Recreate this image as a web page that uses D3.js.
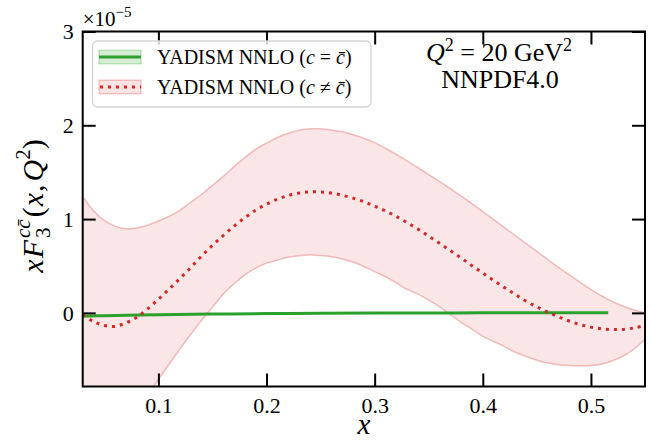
<!DOCTYPE html>
<html>
<head>
<meta charset="utf-8">
<script src="https://cdn.jsdelivr.net/npm/d3@7"></script>
<style>
  html, body { margin: 0; padding: 0; background: #fff; }
  svg { display: block; }
  text { font-family: "Liberation Serif", "DejaVu Serif", serif; fill: #000; }
</style>
</head>
<body>
<svg id="chart" width="651" height="441"></svg>
<script>
// ---------------- data (values in units of 1e-5) ----------------
const xGrid = [0.03,0.04,0.05,0.06,0.07,0.08,0.09,0.10,0.11,0.12,0.13,0.14,0.15,0.16,0.17,0.18,0.19,0.20,
  0.21,0.22,0.23,0.24,0.25,0.26,0.27,0.28,0.29,0.30,0.31,0.32,0.33,0.34,0.35,0.36,0.37,0.38,0.39,0.40,
  0.41,0.42,0.43,0.44,0.45,0.46,0.47,0.48,0.49,0.50,0.51,0.52,0.53,0.54,0.55];
const redCentral = [-0.02,-0.093,-0.134,-0.144,-0.107,-0.047,0.042,0.145,0.255,0.367,0.484,0.606,0.72,0.825,
  0.925,1.015,1.095,1.16,1.212,1.251,1.277,1.29,1.288,1.277,1.254,1.223,1.186,1.138,1.088,1.028,0.962,
  0.893,0.818,0.742,0.663,0.585,0.503,0.425,0.345,0.27,0.197,0.125,0.064,0.009,-0.043,-0.087,-0.125,
  -0.152,-0.17,-0.178,-0.176,-0.16,-0.133];
const redUpper = [1.24,1.09,0.985,0.925,0.897,0.905,0.935,0.98,1.03,1.095,1.18,1.265,1.36,1.455,1.56,1.655,
  1.745,1.81,1.87,1.915,1.948,1.963,1.962,1.95,1.93,1.9,1.862,1.815,1.755,1.69,1.62,1.55,1.475,1.4,1.325,
  1.245,1.165,1.08,0.995,0.91,0.825,0.74,0.655,0.57,0.485,0.405,0.325,0.25,0.18,0.12,0.07,0.03,0.003];
const redLower = [-2.1,-1.92,-1.73,-1.52,-1.3,-1.08,-0.88,-0.71,-0.545,-0.385,-0.228,-0.08,0.06,0.2,0.31,
  0.405,0.478,0.53,0.562,0.592,0.61,0.617,0.612,0.598,0.575,0.542,0.495,0.44,0.385,0.32,0.25,0.2,0.135,
  0.065,-0.02,-0.1,-0.175,-0.25,-0.305,-0.36,-0.42,-0.465,-0.505,-0.535,-0.552,-0.562,-0.567,-0.562,
  -0.545,-0.51,-0.46,-0.385,-0.281];
const greenX = [0.03,0.05,0.10,0.15,0.20,0.25,0.30,0.35,0.40,0.45,0.50,0.516];
const greenCentral = [-0.035,-0.03,-0.02,-0.013,-0.008,-0.004,-0.002,-0.001,0,0,0,0];
const greenErr = [0.004,0.004,0.003,0.003,0.002,0.002,0.002,0.002,0.002,0.002,0.002,0.002];
const xTicks = [0.1,0.2,0.3,0.4,0.5];
const xTickLabels = ["0.1","0.2","0.3","0.4","0.5"];
const yTicks = [0,1,2,3];
const yTickLabels = ["0","1","2","3"];
const legendLabels = ["c = c̄", "c ≠ c̄"];

// ---------------- layout ----------------
const svg = d3.select("#chart");
const L = 82.7, R = 645, T = 31.5, B = 386.5;
const x = d3.scaleLinear().domain([0.03, 0.55]).range([L, R]);
const y = d3.scaleLinear().domain([-0.785, 3]).range([B, T]);
const red = "#d62728", green = "#2ca02c";

svg.append("defs").append("clipPath").attr("id", "clip")
  .append("rect").attr("x", L).attr("y", T).attr("width", R - L).attr("height", B - T);

const plot = svg.append("g").attr("clip-path", "url(#clip)");
const redData = xGrid.map((v, i) => ({x: v, c: redCentral[i], lo: redLower[i], hi: redUpper[i]}));
const greenData = greenX.map((v, i) => ({x: v, c: greenCentral[i], lo: greenCentral[i] - greenErr[i], hi: greenCentral[i] + greenErr[i]}));

const curve = d3.curveCatmullRom;
const area = d3.area().x(d => x(d.x)).y0(d => y(d.lo)).y1(d => y(d.hi)).curve(curve);
const lineC = d3.line().x(d => x(d.x)).y(d => y(d.c)).curve(curve);
const lineLo = d3.line().x(d => x(d.x)).y(d => y(d.lo)).curve(curve);
const lineHi = d3.line().x(d => x(d.x)).y(d => y(d.hi)).curve(curve);

// red band
plot.append("path").datum(redData).attr("d", area).attr("fill", red).attr("fill-opacity", 0.115);
plot.append("path").datum(redData).attr("d", lineHi).attr("fill", "none").attr("stroke", red).attr("stroke-opacity", 0.28).attr("stroke-width", 1.5);
plot.append("path").datum(redData).attr("d", lineLo).attr("fill", "none").attr("stroke", red).attr("stroke-opacity", 0.28).attr("stroke-width", 1.5);
// green band + line
plot.append("path").datum(greenData).attr("d", area).attr("fill", green).attr("fill-opacity", 0.2);
plot.append("path").datum(greenData).attr("d", lineC).attr("fill", "none").attr("stroke", green).attr("stroke-width", 3);
// red dotted central
plot.append("path").datum(redData).attr("d", lineC).attr("fill", "none").attr("stroke", red)
  .attr("stroke-width", 3).attr("stroke-dasharray", "3 5");

// ---------------- axes ----------------
const tickLen = 13;
const axB = svg.append("g").attr("transform", `translate(0,${B})`)
  .call(d3.axisBottom(x).tickValues(xTicks).tickFormat((d, i) => xTickLabels[i]).tickSize(-tickLen).tickPadding(11));
const axT = svg.append("g").attr("transform", `translate(0,${T})`)
  .call(d3.axisTop(x).tickValues(xTicks).tickFormat("").tickSize(-tickLen));
const axL = svg.append("g").attr("transform", `translate(${L},0)`)
  .call(d3.axisLeft(y).tickValues(yTicks).tickFormat((d, i) => yTickLabels[i]).tickSize(-tickLen).tickPadding(9));
const axR = svg.append("g").attr("transform", `translate(${R},0)`)
  .call(d3.axisRight(y).tickValues(yTicks).tickFormat("").tickSize(-tickLen));
[axB, axT, axL, axR].forEach(g => {
  g.select(".domain").remove();
  g.selectAll(".tick line").attr("stroke", "#000").attr("stroke-width", 2);
  g.selectAll(".tick text").style("font-family", "Liberation Serif").style("font-size", "22px").attr("fill", "#000");
});
axB.selectAll(".tick text").attr("dy", "0.71em");
axL.selectAll(".tick text").attr("dy", "0.34em");
svg.append("rect").attr("x", L).attr("y", T).attr("width", R - L).attr("height", B - T)
  .attr("fill", "none").attr("stroke", "#000").attr("stroke-width", 2);

// offset text ×10^-5
const off = svg.append("text").attr("x", L).attr("y", 26).style("font-size", "21px");
off.append("tspan").text("×10");
off.append("tspan").attr("dy", -9).style("font-size", "15px").text("−5");

// ---------------- legend ----------------
const lg = svg.append("g");
lg.append("rect").attr("x", 92.5).attr("y", 41).attr("width", 278.5).attr("height", 66).attr("rx", 5)
  .attr("fill", "#fff").attr("fill-opacity", 0.8).attr("stroke", "#d5d5d5").attr("stroke-width", 1.3);
const entries = [
  {col: green, y: 57, dash: null, op: 0.2},
  {col: red, y: 87, dash: "3 5", op: 0.13}
];
entries.forEach((e, i) => {
  lg.append("rect").attr("x", 99).attr("y", e.y - 6.8).attr("width", 42).attr("height", 13.6)
    .attr("fill", e.col).attr("fill-opacity", e.op).attr("stroke", e.col).attr("stroke-opacity", 0.3).attr("stroke-width", 1.2);
  const ln = lg.append("line").attr("x1", 99).attr("x2", 141).attr("y1", e.y).attr("y2", e.y)
    .attr("stroke", e.col).attr("stroke-width", 3);
  if (e.dash) ln.attr("stroke-dasharray", e.dash).attr("stroke-dashoffset", -1);
  const t = lg.append("text").attr("x", 157).attr("y", e.y + 7).style("font-size", "20px");
  t.append("tspan").text("YADISM NNLO (");
  const parts = legendLabels[i].split(" ");
  t.append("tspan").style("font-style", "italic").text(parts[0]);
  t.append("tspan").text(" " + parts[1] + " ");
  t.append("tspan").style("font-style", "italic").text(parts[2]);
  t.append("tspan").text(")");
});

// ---------------- annotation ----------------
const ann = svg.append("text").attr("x", 499).attr("y", 61).attr("text-anchor", "middle").style("font-size", "26px");
ann.append("tspan").style("font-style", "italic").text("Q");
ann.append("tspan").attr("dy", -10).style("font-size", "18px").text("2");
ann.append("tspan").attr("dy", 10).text(" = 20 GeV");
ann.append("tspan").attr("dy", -10).style("font-size", "18px").text("2");
svg.append("text").attr("x", 500).attr("y", 88).attr("text-anchor", "middle").style("font-size", "26px").text("NNPDF4.0");

// ---------------- axis labels ----------------
svg.append("text").attr("x", (L + R) / 2).attr("y", 434).attr("text-anchor", "middle")
  .style("font-size", "29px").style("font-style", "italic").text("x");

// y label built from pieces
const yl = svg.append("g");
const pieces = [
  {t: "x", it: true, fs: 30, dy: 0},
  {t: "F", it: true, fs: 30, dy: 0},
  {stack: [{t: "cc̄", it: true, fs: 21, dy: -13}, {t: "3", it: false, fs: 21, dy: 7}]},
  {t: "(", it: false, fs: 30, dy: 0},
  {t: "x", it: true, fs: 30, dy: 0},
  {t: ", ", it: false, fs: 30, dy: 0},
  {t: "Q", it: true, fs: 30, dy: 0},
  {t: "2", it: false, fs: 21, dy: -13},
  {t: ")", it: false, fs: 30, dy: 0}
];
let cursor = 0;
function put(p, cx) {
  const el = yl.append("text").attr("x", cx).attr("y", p.dy).style("font-size", p.fs + "px")
    .style("font-style", p.it ? "italic" : "normal").text(p.t);
  return el.node().getComputedTextLength();
}
pieces.forEach(p => {
  if (p.stack) {
    let w = 0;
    p.stack.forEach(s => { w = Math.max(w, put(s, cursor + 1)); });
    cursor += w + 3;
  } else {
    cursor += put(p, cursor) + (p.t === "F" ? 1 : (p.t === "(" || p.t === "x" ? 1 : 0)) + (p.t === ", " ? 3 : 0);
  }
});
yl.attr("transform", `translate(43,206) rotate(-90) translate(${-cursor / 2},0)`);
</script>
</body>
</html>
